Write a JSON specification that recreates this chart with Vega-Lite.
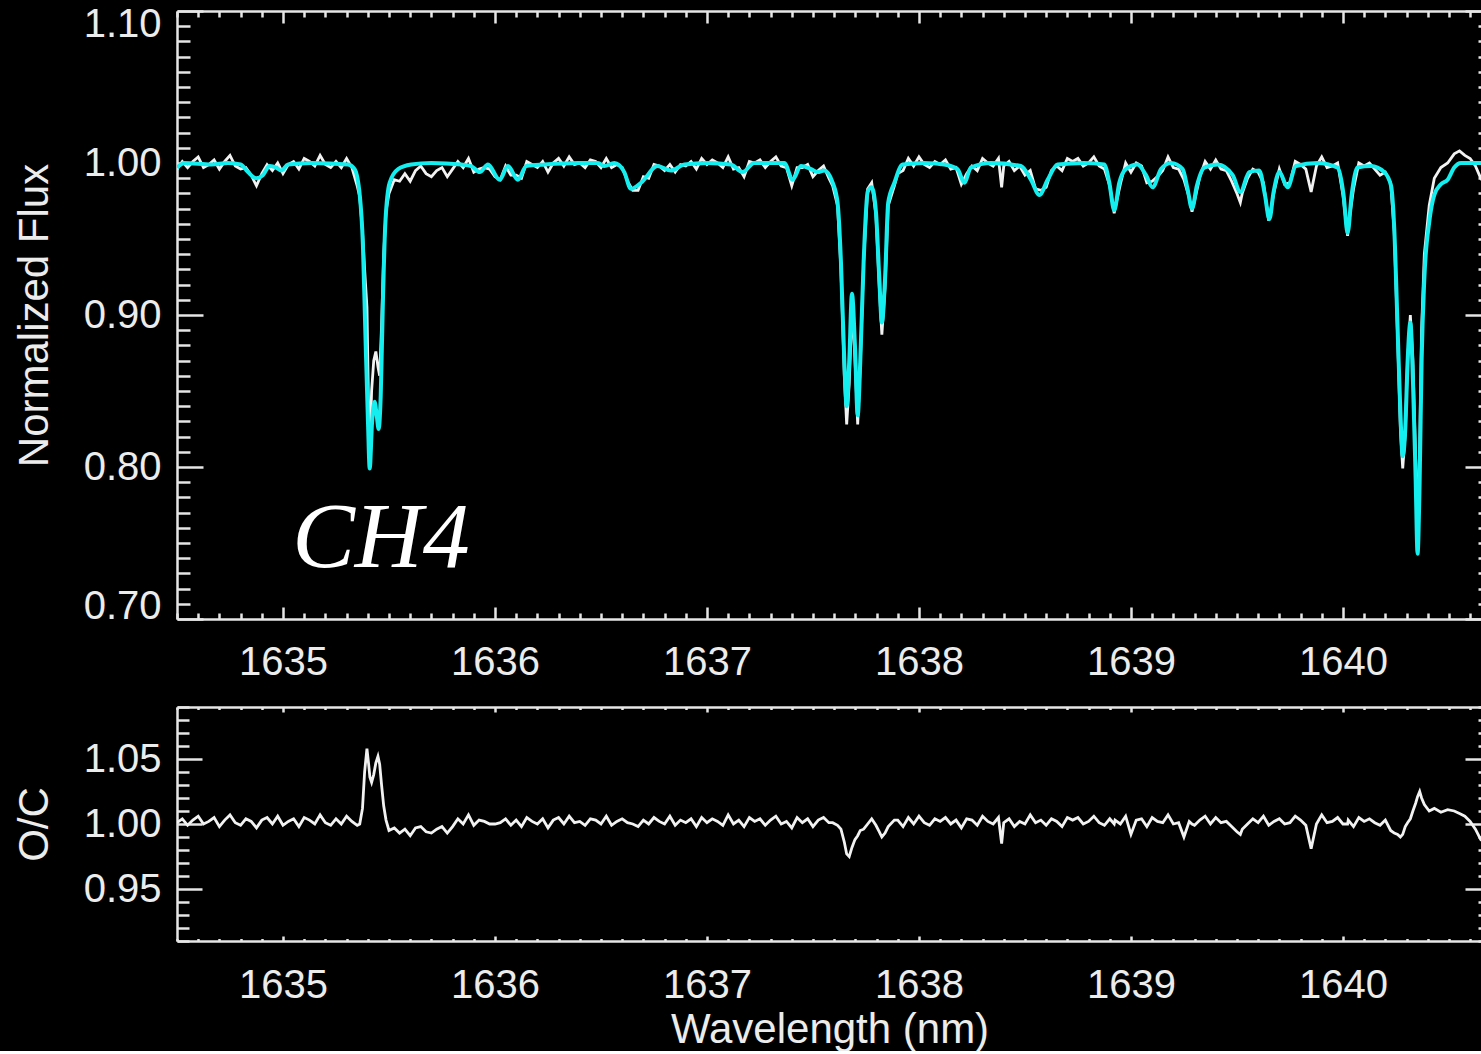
{
  "$schema": "https://vega.github.io/schema/vega-lite/v6.json",
  "background": "black",
  "padding": {"left": 13, "top": 4, "right": 0, "bottom": 0},
  "config": {
    "view": {"stroke": null},
    "axis": {
      "labelColor": "#ececec",
      "titleColor": "#ececec",
      "domainColor": "#e6e6e6",
      "tickColor": "#e6e6e6",
      "domainWidth": 2.5,
      "tickWidth": 2.5,
      "labelFont": "Liberation Sans",
      "titleFont": "Liberation Sans",
      "labelFontSize": 40,
      "titleFontSize": 42,
      "titleFontWeight": "normal",
      "grid": false,
      "labelOverlap": false
    }
  },
  "datasets": {
    "model": [
      {"w":1634.5,"f":0.997},{"w":1634.536,"f":1.0},{"w":1634.662,"f":0.999},{"w":1634.74,"f":1.0},{"w":1634.8,"f":0.999},
      {"w":1634.835,"f":0.994},{"w":1634.874,"f":0.99},{"w":1634.905,"f":0.992},{"w":1634.937,"f":0.998},{"w":1634.968,"f":0.997},
      {"w":1634.992,"f":0.995},{"w":1635.024,"f":0.999},{"w":1635.134,"f":1.0},{"w":1635.307,"f":0.999},{"w":1635.338,"f":0.996},
      {"w":1635.362,"f":0.979},{"w":1635.377,"f":0.946},{"w":1635.388,"f":0.891},{"w":1635.401,"f":0.829},{"w":1635.409,"f":0.799},
      {"w":1635.42,"f":0.829},{"w":1635.432,"f":0.843},{"w":1635.442,"f":0.834},{"w":1635.451,"f":0.825},{"w":1635.461,"f":0.847},
      {"w":1635.472,"f":0.913},{"w":1635.483,"f":0.961},{"w":1635.503,"f":0.987},{"w":1635.543,"f":0.996},{"w":1635.605,"f":0.999},
      {"w":1635.7,"f":1.0},{"w":1635.841,"f":0.999},{"w":1635.888,"f":0.998},{"w":1635.928,"f":0.994},{"w":1635.967,"f":0.999},
      {"w":1636.022,"f":0.989},{"w":1636.061,"f":0.998},{"w":1636.108,"f":0.989},{"w":1636.148,"f":0.998},{"w":1636.234,"f":0.999},
      {"w":1636.391,"f":1.0},{"w":1636.486,"f":1.0},{"w":1636.516,"f":0.998},{"w":1636.563,"f":1.0},{"w":1636.61,"f":0.994},
      {"w":1636.641,"f":0.983},{"w":1636.689,"f":0.987},{"w":1636.767,"f":0.998},{"w":1636.83,"f":0.995},{"w":1636.893,"f":0.999},
      {"w":1637.003,"f":1.0},{"w":1637.113,"f":0.999},{"w":1637.168,"f":0.994},{"w":1637.223,"f":1.0},{"w":1637.365,"f":1.0},
      {"w":1637.404,"f":0.989},{"w":1637.443,"f":0.998},{"w":1637.491,"f":0.996},{"w":1637.522,"f":0.994},{"w":1637.553,"f":0.995},
      {"w":1637.593,"f":0.987},{"w":1637.616,"f":0.974},{"w":1637.632,"f":0.935},{"w":1637.648,"f":0.869},{"w":1637.659,"f":0.84},
      {"w":1637.671,"f":0.869},{"w":1637.684,"f":0.914},{"w":1637.698,"f":0.88},{"w":1637.711,"f":0.834},{"w":1637.723,"f":0.869},
      {"w":1637.739,"f":0.935},{"w":1637.758,"f":0.981},{"w":1637.777,"f":0.984},{"w":1637.797,"f":0.968},{"w":1637.813,"f":0.924},
      {"w":1637.825,"f":0.895},{"w":1637.84,"f":0.924},{"w":1637.855,"f":0.974},{"w":1637.884,"f":0.987},{"w":1637.923,"f":0.999},
      {"w":1638.025,"f":1.0},{"w":1638.119,"f":0.999},{"w":1638.182,"f":0.996},{"w":1638.214,"f":0.987},{"w":1638.245,"f":0.997},
      {"w":1638.34,"f":1.0},{"w":1638.481,"f":0.998},{"w":1638.528,"f":0.989},{"w":1638.568,"f":0.979},{"w":1638.607,"f":0.989},
      {"w":1638.654,"f":0.999},{"w":1638.78,"f":1.0},{"w":1638.874,"f":0.999},{"w":1638.898,"f":0.987},{"w":1638.921,"f":0.969},
      {"w":1638.945,"f":0.987},{"w":1638.976,"f":0.996},{"w":1639.031,"f":0.999},{"w":1639.071,"f":0.992},{"w":1639.102,"f":0.984},
      {"w":1639.142,"f":0.996},{"w":1639.189,"f":1.0},{"w":1639.244,"f":0.996},{"w":1639.267,"f":0.983},{"w":1639.288,"f":0.97},
      {"w":1639.311,"f":0.985},{"w":1639.346,"f":0.997},{"w":1639.409,"f":0.999},{"w":1639.48,"f":0.992},{"w":1639.516,"f":0.981},
      {"w":1639.558,"f":0.994},{"w":1639.605,"f":0.995},{"w":1639.632,"f":0.979},{"w":1639.653,"f":0.963},{"w":1639.673,"f":0.981},
      {"w":1639.7,"f":0.994},{"w":1639.739,"f":0.984},{"w":1639.778,"f":0.998},{"w":1639.88,"f":1.0},{"w":1639.975,"f":0.997},
      {"w":1640.003,"f":0.979},{"w":1640.022,"f":0.954},{"w":1640.041,"f":0.979},{"w":1640.069,"f":0.997},{"w":1640.132,"f":0.998},
      {"w":1640.195,"f":0.994},{"w":1640.227,"f":0.985},{"w":1640.242,"f":0.957},{"w":1640.258,"f":0.891},{"w":1640.271,"f":0.836},
      {"w":1640.282,"f":0.807},{"w":1640.294,"f":0.825},{"w":1640.305,"f":0.869},{"w":1640.318,"f":0.895},{"w":1640.33,"f":0.858},
      {"w":1640.343,"f":0.792},{"w":1640.352,"f":0.743},{"w":1640.362,"f":0.792},{"w":1640.371,"f":0.869},{"w":1640.384,"f":0.924},
      {"w":1640.407,"f":0.961},{"w":1640.431,"f":0.979},{"w":1640.462,"f":0.986},{"w":1640.494,"f":0.989},{"w":1640.525,"f":0.997},
      {"w":1640.557,"f":1.0},{"w":1640.7,"f":1.0}
    ],
    "obs": [
      {"w":1634.5,"f":0.996,"r":1.001},{"w":1634.525,"f":1.001,"r":1.004},{"w":1634.55,"f":0.997,"r":0.999},{"w":1634.575,"f":1.001,"r":1.003},
      {"w":1634.6,"f":1.004,"r":1.006},{"w":1634.625,"f":0.997,"r":1.0},{"w":1634.65,"f":0.999,"r":1.002},{"w":1634.675,"f":1.002,"r":1.005},
      {"w":1634.7,"f":0.996,"r":0.998},{"w":1634.725,"f":1.001,"r":1.003},{"w":1634.75,"f":1.005,"r":1.007},{"w":1634.775,"f":0.998,"r":1.001},
      {"w":1634.8,"f":0.996,"r":0.999},{"w":1634.825,"f":0.997,"r":1.004},{"w":1634.85,"f":0.992,"r":1.002},{"w":1634.875,"f":0.985,"r":0.997},
      {"w":1634.9,"f":0.993,"r":1.003},{"w":1634.925,"f":0.999,"r":1.005},{"w":1634.95,"f":0.995,"r":1.0},{"w":1634.975,"f":1.0,"r":1.006},
      {"w":1635.0,"f":0.993,"r":0.999},{"w":1635.025,"f":0.999,"r":1.002},{"w":1635.05,"f":1.001,"r":1.004},{"w":1635.075,"f":0.996,"r":0.998},
      {"w":1635.1,"f":1.003,"r":1.005},{"w":1635.125,"f":1.001,"r":1.003},{"w":1635.15,"f":0.998,"r":1.0},{"w":1635.175,"f":1.005,"r":1.007},
      {"w":1635.2,"f":0.999,"r":1.001},{"w":1635.225,"f":0.997,"r":0.999},{"w":1635.25,"f":1.001,"r":1.004},{"w":1635.275,"f":0.997,"r":1.0},
      {"w":1635.3,"f":1.003,"r":1.006},{"w":1635.325,"f":0.997,"r":1.002},{"w":1635.35,"f":0.985,"r":0.999},{"w":1635.362,"f":0.978,"r":1.0},
      {"w":1635.375,"f":0.955,"r":1.012},{"w":1635.385,"f":0.93,"r":1.04},{"w":1635.396,"f":0.905,"r":1.058},{"w":1635.404,"f":0.835,"r":1.046},
      {"w":1635.41,"f":0.812,"r":1.036},{"w":1635.418,"f":0.85,"r":1.032},{"w":1635.428,"f":0.87,"r":1.038},{"w":1635.438,"f":0.876,"r":1.047},
      {"w":1635.448,"f":0.866,"r":1.052},{"w":1635.456,"f":0.86,"r":1.046},{"w":1635.465,"f":0.893,"r":1.03},{"w":1635.475,"f":0.94,"r":1.014},
      {"w":1635.486,"f":0.968,"r":1.003},{"w":1635.5,"f":0.98,"r":0.995},{"w":1635.525,"f":0.989,"r":0.997},{"w":1635.55,"f":0.988,"r":0.993},
      {"w":1635.575,"f":0.993,"r":0.996},{"w":1635.6,"f":0.988,"r":0.991},{"w":1635.625,"f":0.995,"r":0.997},{"w":1635.65,"f":0.998,"r":0.998},
      {"w":1635.675,"f":0.993,"r":0.994},{"w":1635.7,"f":0.991,"r":0.993},{"w":1635.725,"f":0.995,"r":0.996},{"w":1635.75,"f":0.997,"r":0.998},
      {"w":1635.775,"f":0.991,"r":0.993},{"w":1635.8,"f":0.996,"r":0.998},{"w":1635.825,"f":1.001,"r":1.004},{"w":1635.85,"f":0.997,"r":1.0},
      {"w":1635.875,"f":1.003,"r":1.007},{"w":1635.9,"f":0.994,"r":0.999},{"w":1635.925,"f":0.996,"r":1.003},{"w":1635.95,"f":0.997,"r":1.002},
      {"w":1635.975,"f":0.996,"r":1.0},{"w":1636.0,"f":0.991,"r":1.0},{"w":1636.025,"f":0.989,"r":1.001},{"w":1636.05,"f":0.998,"r":1.004},
      {"w":1636.075,"f":0.992,"r":0.999},{"w":1636.1,"f":0.992,"r":1.003},{"w":1636.125,"f":0.99,"r":0.998},{"w":1636.15,"f":1.001,"r":1.005},
      {"w":1636.175,"f":0.999,"r":1.002},{"w":1636.2,"f":0.997,"r":1.0},{"w":1636.225,"f":1.001,"r":1.004},{"w":1636.25,"f":0.994,"r":0.997},
      {"w":1636.275,"f":1.0,"r":1.003},{"w":1636.3,"f":1.003,"r":1.005},{"w":1636.325,"f":0.998,"r":1.0},{"w":1636.35,"f":1.004,"r":1.006},
      {"w":1636.375,"f":0.999,"r":1.001},{"w":1636.4,"f":1.0,"r":1.002},{"w":1636.425,"f":0.997,"r":0.999},{"w":1636.45,"f":1.002,"r":1.004},
      {"w":1636.475,"f":1.001,"r":1.003},{"w":1636.5,"f":0.997,"r":1.0},{"w":1636.525,"f":1.003,"r":1.006},{"w":1636.55,"f":0.997,"r":0.999},
      {"w":1636.575,"f":0.999,"r":1.002},{"w":1636.6,"f":0.997,"r":1.004},{"w":1636.625,"f":0.988,"r":1.001},{"w":1636.65,"f":0.982,"r":1.0},
      {"w":1636.675,"f":0.982,"r":0.998},{"w":1636.7,"f":0.991,"r":1.003},{"w":1636.725,"f":0.99,"r":1.0},{"w":1636.75,"f":0.999,"r":1.005},
      {"w":1636.775,"f":0.998,"r":1.002},{"w":1636.8,"f":0.995,"r":1.0},{"w":1636.825,"f":0.999,"r":1.006},{"w":1636.85,"f":0.994,"r":0.999},
      {"w":1636.875,"f":0.999,"r":1.003},{"w":1636.9,"f":0.998,"r":1.001},{"w":1636.925,"f":1.001,"r":1.004},{"w":1636.95,"f":0.996,"r":0.998},
      {"w":1636.975,"f":1.003,"r":1.005},{"w":1637.0,"f":0.999,"r":1.001},{"w":1637.025,"f":1.002,"r":1.004},{"w":1637.05,"f":1.0,"r":1.002},
      {"w":1637.075,"f":0.997,"r":0.999},{"w":1637.1,"f":1.004,"r":1.007},{"w":1637.125,"f":0.996,"r":1.0},{"w":1637.15,"f":0.997,"r":1.003},
      {"w":1637.175,"f":0.991,"r":0.998},{"w":1637.2,"f":1.001,"r":1.005},{"w":1637.225,"f":1.0,"r":1.002},{"w":1637.25,"f":1.002,"r":1.004},
      {"w":1637.275,"f":0.997,"r":0.999},{"w":1637.3,"f":1.001,"r":1.003},{"w":1637.325,"f":1.004,"r":1.006},{"w":1637.35,"f":0.998,"r":1.0},
      {"w":1637.375,"f":0.997,"r":1.002},{"w":1637.4,"f":0.985,"r":0.997},{"w":1637.425,"f":0.997,"r":1.005},{"w":1637.45,"f":0.997,"r":1.001},
      {"w":1637.475,"f":0.999,"r":1.004},{"w":1637.5,"f":0.991,"r":0.998},{"w":1637.525,"f":0.995,"r":1.003},{"w":1637.55,"f":0.998,"r":1.005},
      {"w":1637.575,"f":0.99,"r":1.001},{"w":1637.593,"f":0.985,"r":1.001},{"w":1637.616,"f":0.972,"r":0.999},{"w":1637.632,"f":0.93,"r":0.996},
      {"w":1637.648,"f":0.86,"r":0.986},{"w":1637.659,"f":0.828,"r":0.977},{"w":1637.671,"f":0.855,"r":0.975},{"w":1637.684,"f":0.905,"r":0.982},
      {"w":1637.698,"f":0.872,"r":0.988},{"w":1637.711,"f":0.828,"r":0.991},{"w":1637.723,"f":0.866,"r":0.995},{"w":1637.739,"f":0.935,"r":0.996},
      {"w":1637.758,"f":0.983,"r":1.0},{"w":1637.777,"f":0.987,"r":1.004},{"w":1637.797,"f":0.966,"r":0.999},{"w":1637.813,"f":0.918,"r":0.994},
      {"w":1637.825,"f":0.887,"r":0.99},{"w":1637.84,"f":0.918,"r":0.993},{"w":1637.855,"f":0.972,"r":0.998},{"w":1637.884,"f":0.985,"r":1.003},
      {"w":1637.9,"f":0.993,"r":1.003},{"w":1637.925,"f":0.995,"r":0.998},{"w":1637.95,"f":1.003,"r":1.005},{"w":1637.975,"f":0.998,"r":1.0},
      {"w":1638.0,"f":1.004,"r":1.006},{"w":1638.025,"f":0.999,"r":1.001},{"w":1638.05,"f":0.997,"r":0.999},{"w":1638.075,"f":1.001,"r":1.004},
      {"w":1638.1,"f":0.999,"r":1.002},{"w":1638.125,"f":1.002,"r":1.005},{"w":1638.15,"f":0.996,"r":1.0},{"w":1638.175,"f":0.997,"r":1.003},
      {"w":1638.2,"f":0.986,"r":0.997},{"w":1638.225,"f":0.993,"r":1.004},{"w":1638.25,"f":0.998,"r":1.003},{"w":1638.275,"f":0.995,"r":0.999},
      {"w":1638.3,"f":1.003,"r":1.006},{"w":1638.325,"f":1.0,"r":1.002},{"w":1638.35,"f":0.998,"r":1.0},{"w":1638.375,"f":1.003,"r":1.005},
      {"w":1638.39,"f":0.984,"r":0.985},{"w":1638.4,"f":0.998,"r":1.001},{"w":1638.425,"f":1.001,"r":1.004},{"w":1638.45,"f":0.995,"r":0.998},
      {"w":1638.475,"f":0.998,"r":1.002},{"w":1638.5,"f":0.992,"r":1.0},{"w":1638.525,"f":0.995,"r":1.007},{"w":1638.55,"f":0.983,"r":1.001},
      {"w":1638.575,"f":0.982,"r":1.003},{"w":1638.6,"f":0.984,"r":0.999},{"w":1638.625,"f":0.995,"r":1.004},{"w":1638.65,"f":0.998,"r":1.002},
      {"w":1638.675,"f":0.995,"r":0.998},{"w":1638.7,"f":1.003,"r":1.005},{"w":1638.725,"f":1.001,"r":1.003},{"w":1638.75,"f":1.003,"r":1.005},
      {"w":1638.775,"f":0.998,"r":1.0},{"w":1638.8,"f":1.0,"r":1.002},{"w":1638.825,"f":1.004,"r":1.006},{"w":1638.85,"f":0.998,"r":1.001},
      {"w":1638.875,"f":0.996,"r":0.999},{"w":1638.9,"f":0.985,"r":1.004},{"w":1638.921,"f":0.967,"r":1.0},{"w":1638.925,"f":0.97,"r":1.003},
      {"w":1638.95,"f":0.986,"r":1.0},{"w":1638.975,"f":1.0,"r":1.006},{"w":1639.0,"f":0.994,"r":0.992},{"w":1639.025,"f":1.0,"r":1.003},
      {"w":1639.05,"f":0.998,"r":1.004},{"w":1639.075,"f":0.987,"r":0.998},{"w":1639.1,"f":0.988,"r":1.005},{"w":1639.125,"f":0.991,"r":1.002},
      {"w":1639.15,"f":0.995,"r":1.001},{"w":1639.175,"f":1.004,"r":1.007},{"w":1639.2,"f":0.997,"r":1.0},{"w":1639.225,"f":0.996,"r":1.001},
      {"w":1639.25,"f":0.989,"r":0.99},{"w":1639.275,"f":0.977,"r":1.002},{"w":1639.288,"f":0.968,"r":1.0},{"w":1639.3,"f":0.975,"r":0.999},
      {"w":1639.325,"f":0.991,"r":1.003},{"w":1639.35,"f":1.001,"r":1.006},{"w":1639.375,"f":0.996,"r":1.0},{"w":1639.4,"f":1.002,"r":1.005},
      {"w":1639.425,"f":0.996,"r":1.001},{"w":1639.45,"f":0.995,"r":1.002},{"w":1639.475,"f":0.988,"r":0.998},{"w":1639.5,"f":0.98,"r":0.994},
      {"w":1639.516,"f":0.974,"r":0.992},{"w":1639.525,"f":0.98,"r":0.996},{"w":1639.55,"f":0.99,"r":1.0},{"w":1639.575,"f":0.996,"r":1.004},
      {"w":1639.6,"f":0.994,"r":1.001},{"w":1639.625,"f":0.987,"r":1.006},{"w":1639.65,"f":0.962,"r":0.999},{"w":1639.675,"f":0.981,"r":1.002},
      {"w":1639.7,"f":0.996,"r":1.004},{"w":1639.725,"f":0.986,"r":1.0},{"w":1639.75,"f":0.987,"r":1.001},{"w":1639.775,"f":1.001,"r":1.006},
      {"w":1639.8,"f":0.999,"r":1.003},{"w":1639.825,"f":0.996,"r":0.999},{"w":1639.85,"f":0.981,"r":0.981},{"w":1639.875,"f":0.998,"r":1.0},
      {"w":1639.9,"f":1.004,"r":1.007},{"w":1639.925,"f":0.997,"r":1.001},{"w":1639.95,"f":0.998,"r":1.002},{"w":1639.975,"f":1.0,"r":1.005},
      {"w":1640.0,"f":0.979,"r":1.0},{"w":1640.022,"f":0.952,"r":1.0},{"w":1640.025,"f":0.958,"r":1.003},{"w":1640.05,"f":0.983,"r":0.998},
      {"w":1640.075,"f":1.0,"r":1.005},{"w":1640.1,"f":0.998,"r":1.002},{"w":1640.125,"f":1.0,"r":1.004},{"w":1640.15,"f":0.996,"r":1.001},
      {"w":1640.175,"f":0.992,"r":0.999},{"w":1640.2,"f":0.994,"r":1.003},{"w":1640.225,"f":0.987,"r":0.995},{"w":1640.242,"f":0.955,"r":0.993},
      {"w":1640.258,"f":0.885,"r":0.992},{"w":1640.271,"f":0.825,"r":0.99},{"w":1640.282,"f":0.799,"r":0.992},{"w":1640.294,"f":0.822,"r":0.998},
      {"w":1640.305,"f":0.87,"r":1.001},{"w":1640.318,"f":0.9,"r":1.004},{"w":1640.33,"f":0.87,"r":1.01},{"w":1640.343,"f":0.805,"r":1.016},
      {"w":1640.352,"f":0.762,"r":1.021},{"w":1640.362,"f":0.812,"r":1.025},{"w":1640.371,"f":0.89,"r":1.02},{"w":1640.384,"f":0.94,"r":1.015},
      {"w":1640.407,"f":0.972,"r":1.01},{"w":1640.431,"f":0.99,"r":1.012},{"w":1640.462,"f":0.997,"r":1.009},{"w":1640.494,"f":1.0,"r":1.011},
      {"w":1640.525,"f":1.006,"r":1.01},{"w":1640.55,"f":1.008,"r":1.008},{"w":1640.575,"f":1.005,"r":1.006},{"w":1640.6,"f":1.003,"r":1.002},
      {"w":1640.625,"f":0.998,"r":0.996},{"w":1640.65,"f":0.99,"r":0.988},{"w":1640.675,"f":0.985,"r":0.985},{"w":1640.7,"f":0.983,"r":0.984}
    ]
  },
  "bounds": "flush",
  "spacing": 88,
  "vconcat": [
    {
      "width": 1305,
      "height": 608,
      "resolve": {"axis": {"x": "independent", "y": "independent"}},
      "layer": [
        {
          "data": {"name": "obs"},
          "mark": {"type": "line", "color": "#f2f2f2", "strokeWidth": 2.8, "clip": true},
          "encoding": {
            "x": {"field": "w", "type": "quantitative",
              "scale": {"domain": [1634.5, 1640.656], "nice": false, "zero": false},
              "axis": {"orient": "bottom", "title": null,
                "values": [1634.5,1634.6,1634.7,1634.8,1634.9,1635,1635.1,1635.2,1635.3,1635.4,1635.5,1635.6,1635.7,1635.8,1635.9,1636,1636.1,1636.2,1636.3,1636.4,1636.5,1636.6,1636.7,1636.8,1636.9,1637,1637.1,1637.2,1637.3,1637.4,1637.5,1637.6,1637.7,1637.8,1637.9,1638,1638.1,1638.2,1638.3,1638.4,1638.5,1638.6,1638.7,1638.8,1638.9,1639,1639.1,1639.2,1639.3,1639.4,1639.5,1639.6,1639.7,1639.8,1639.9,1640,1640.1,1640.2,1640.3,1640.4,1640.5,1640.6],
                "tickSize": {"condition": {"test": "abs(datum.value - round(datum.value)) < 0.01", "value": -12}, "value": -6},
                "labelExpr": "abs(datum.value - round(datum.value)) < 0.01 ? format(datum.value, 'd') : ''",
                "labelPadding": 35}},
            "y": {"field": "f", "type": "quantitative",
              "scale": {"domain": [0.7, 1.1], "nice": false, "zero": false},
              "axis": {"orient": "left", "title": "Normalized Flux", "titlePadding": 27,
                "values": [0.7,0.71,0.72,0.73,0.74,0.75,0.76,0.77,0.78,0.79,0.8,0.81,0.82,0.83,0.84,0.85,0.86,0.87,0.88,0.89,0.9,0.91,0.92,0.93,0.94,0.95,0.96,0.97,0.98,0.99,1.0,1.01,1.02,1.03,1.04,1.05,1.06,1.07,1.08,1.09,1.1],
                "tickSize": {"condition": {"test": "abs(datum.value * 10 - round(datum.value * 10)) < 0.01", "value": -26}, "value": -13},
                "labelExpr": "abs(datum.value * 10 - round(datum.value * 10)) < 0.01 ? format(datum.value, '.2f') : ''",
                "labelPadding": 42, "labelFlush": true, "labelFlushOffset": 7}}
          }
        },
        {
          "data": {"name": "model"},
          "mark": {"type": "line", "color": "#14eeee", "strokeWidth": 4, "interpolate": "monotone", "clip": true},
          "encoding": {
            "x": {"field": "w", "type": "quantitative",
              "scale": {"domain": [1634.5, 1640.656], "nice": false, "zero": false},
              "axis": {"orient": "top", "title": null, "labels": false,
                "values": [1634.5,1634.6,1634.7,1634.8,1634.9,1635,1635.1,1635.2,1635.3,1635.4,1635.5,1635.6,1635.7,1635.8,1635.9,1636,1636.1,1636.2,1636.3,1636.4,1636.5,1636.6,1636.7,1636.8,1636.9,1637,1637.1,1637.2,1637.3,1637.4,1637.5,1637.6,1637.7,1637.8,1637.9,1638,1638.1,1638.2,1638.3,1638.4,1638.5,1638.6,1638.7,1638.8,1638.9,1639,1639.1,1639.2,1639.3,1639.4,1639.5,1639.6,1639.7,1639.8,1639.9,1640,1640.1,1640.2,1640.3,1640.4,1640.5,1640.6],
                "tickSize": {"condition": {"test": "abs(datum.value - round(datum.value)) < 0.01", "value": -12}, "value": -6}}},
            "y": {"field": "f", "type": "quantitative",
              "scale": {"domain": [0.7, 1.1], "nice": false, "zero": false},
              "axis": {"orient": "right", "title": null, "labels": false, "domain": false,
                "values": [0.7,0.71,0.72,0.73,0.74,0.75,0.76,0.77,0.78,0.79,0.8,0.81,0.82,0.83,0.84,0.85,0.86,0.87,0.88,0.89,0.9,0.91,0.92,0.93,0.94,0.95,0.96,0.97,0.98,0.99,1.0,1.01,1.02,1.03,1.04,1.05,1.06,1.07,1.08,1.09,1.1],
                "tickSize": {"condition": {"test": "abs(datum.value * 10 - round(datum.value * 10)) < 0.01", "value": -17}, "value": -4}}}
          }
        },
        {
          "data": {"values": [{}]},
          "mark": {"type": "text", "color": "white", "font": "Liberation Serif", "fontStyle": "italic", "fontSize": 94, "align": "center", "baseline": "middle"},
          "encoding": {
            "x": {"datum": 1635.462, "type": "quantitative", "axis": null},
            "y": {"datum": 0.7526, "type": "quantitative", "axis": null},
            "text": {"value": "CH4"}
          }
        }
      ]
    },
    {
      "width": 1305,
      "height": 234,
      "resolve": {"axis": {"x": "independent", "y": "independent"}},
      "layer": [
        {
          "data": {"name": "obs"},
          "mark": {"type": "line", "color": "#f2f2f2", "strokeWidth": 2.8, "clip": true},
          "encoding": {
            "x": {"field": "w", "type": "quantitative",
              "scale": {"domain": [1634.5, 1640.656], "nice": false, "zero": false},
              "axis": {"orient": "bottom", "title": "Wavelength (nm)", "titlePadding": 2,
                "values": [1634.5,1634.6,1634.7,1634.8,1634.9,1635,1635.1,1635.2,1635.3,1635.4,1635.5,1635.6,1635.7,1635.8,1635.9,1636,1636.1,1636.2,1636.3,1636.4,1636.5,1636.6,1636.7,1636.8,1636.9,1637,1637.1,1637.2,1637.3,1637.4,1637.5,1637.6,1637.7,1637.8,1637.9,1638,1638.1,1638.2,1638.3,1638.4,1638.5,1638.6,1638.7,1638.8,1638.9,1639,1639.1,1639.2,1639.3,1639.4,1639.5,1639.6,1639.7,1639.8,1639.9,1640,1640.1,1640.2,1640.3,1640.4,1640.5,1640.6],
                "tickSize": {"condition": {"test": "abs(datum.value - round(datum.value)) < 0.01", "value": -5}, "value": -2.5},
                "labelExpr": "abs(datum.value - round(datum.value)) < 0.01 ? format(datum.value, 'd') : ''",
                "labelPadding": 29}},
            "y": {"field": "r", "type": "quantitative",
              "scale": {"domain": [0.91, 1.09], "nice": false, "zero": false},
              "axis": {"orient": "left", "title": "O/C", "titlePadding": 27,
                "values": [0.91,0.92,0.93,0.94,0.95,0.96,0.97,0.98,0.99,1.0,1.01,1.02,1.03,1.04,1.05,1.06,1.07,1.08,1.09],
                "tickSize": {"condition": {"test": "abs(datum.value * 20 - round(datum.value * 20)) < 0.01", "value": -25}, "value": -12},
                "labelExpr": "abs(datum.value * 20 - round(datum.value * 20)) < 0.01 ? format(datum.value, '.2f') : ''",
                "labelPadding": 41}}
          }
        },
        {
          "data": {"values": []},
          "mark": {"type": "point", "opacity": 0},
          "encoding": {
            "x": {"field": "w", "type": "quantitative",
              "scale": {"domain": [1634.5, 1640.656], "nice": false, "zero": false},
              "axis": {"orient": "top", "title": null, "labels": false,
                "values": [1634.5,1634.6,1634.7,1634.8,1634.9,1635,1635.1,1635.2,1635.3,1635.4,1635.5,1635.6,1635.7,1635.8,1635.9,1636,1636.1,1636.2,1636.3,1636.4,1636.5,1636.6,1636.7,1636.8,1636.9,1637,1637.1,1637.2,1637.3,1637.4,1637.5,1637.6,1637.7,1637.8,1637.9,1638,1638.1,1638.2,1638.3,1638.4,1638.5,1638.6,1638.7,1638.8,1638.9,1639,1639.1,1639.2,1639.3,1639.4,1639.5,1639.6,1639.7,1639.8,1639.9,1640,1640.1,1640.2,1640.3,1640.4,1640.5,1640.6],
                "tickSize": {"condition": {"test": "abs(datum.value - round(datum.value)) < 0.01", "value": -5}, "value": -2.5}}},
            "y": {"field": "r", "type": "quantitative",
              "scale": {"domain": [0.91, 1.09], "nice": false, "zero": false},
              "axis": {"orient": "right", "title": null, "labels": false, "domain": false,
                "values": [0.91,0.92,0.93,0.94,0.95,0.96,0.97,0.98,0.99,1.0,1.01,1.02,1.03,1.04,1.05,1.06,1.07,1.08,1.09],
                "tickSize": {"condition": {"test": "abs(datum.value * 20 - round(datum.value * 20)) < 0.01", "value": -17}, "value": -4}}}
          }
        }
      ]
    }
  ]
}
